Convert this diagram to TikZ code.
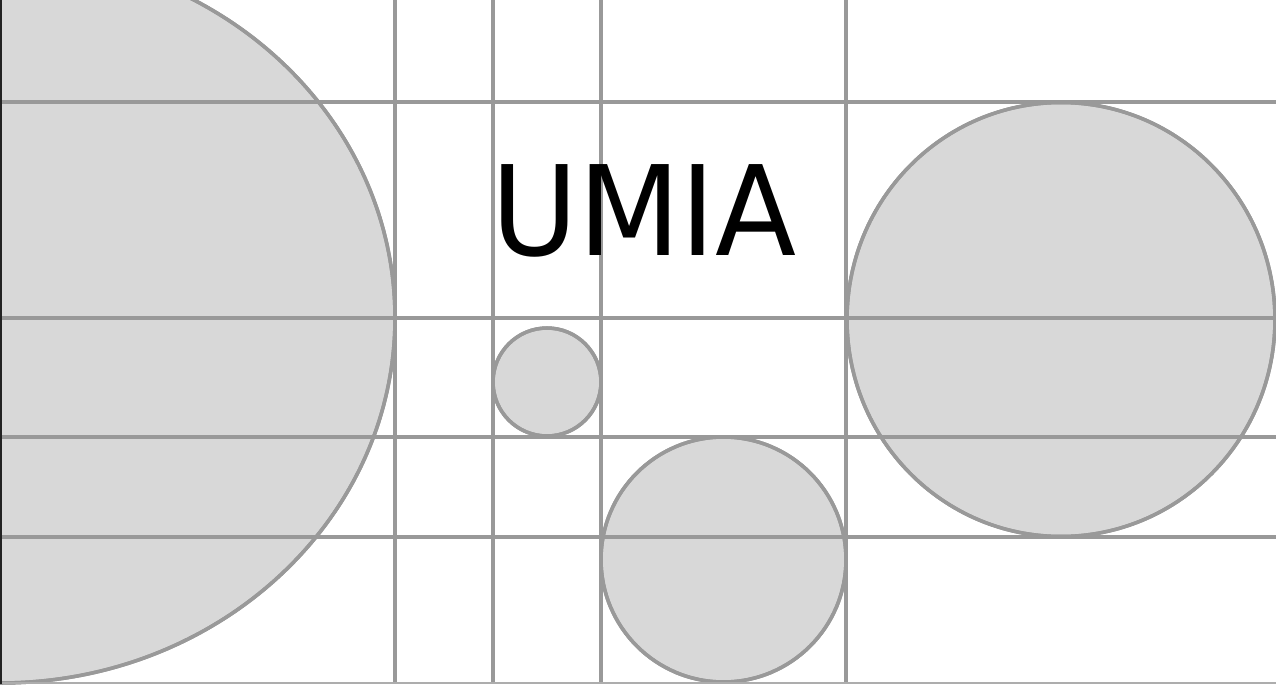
\documentclass[tikz,border=0pt]{standalone}
\usepackage{fontspec}
\newfontfamily\logofont{DejaVu Sans}
\definecolor{gridgray}{HTML}{999999}
\definecolor{discfill}{HTML}{D8D8D8}
\definecolor{edgedark}{HTML}{222222}
\tikzset{
  disc/.style={draw=gridgray, fill=discfill, line width=2pt},
  gridline/.style={draw=gridgray, line width=2pt}
}
\begin{document}
\begin{tikzpicture}[x=0.02cm, y=-0.02cm]
\useasboundingbox (0,0) rectangle (1276,684);
\begin{scope}
\clip (0,0) rectangle (1276,684);
% discs
\fill[disc] (0,318) ellipse [x radius=395, y radius=365];
\fill[disc] (1061,319.5) ellipse [x radius=214, y radius=217];
\fill[disc] (547,382) circle [radius=54];
\fill[disc] (723.5,559.5) circle [radius=122.5];
% grid
\foreach \gx in {395,493,601,846}
  \draw[gridline] (\gx,0) -- (\gx,684);
\foreach \gy in {102,318,437,537}
  \draw[gridline] (0,\gy) -- (1276,\gy);
% disc outlines
\draw[disc, fill=none] (0,318) ellipse [x radius=395, y radius=365];
\draw[disc, fill=none] (1061,319.5) ellipse [x radius=214, y radius=217];
\draw[disc, fill=none] (547,382) circle [radius=54];
\draw[disc, fill=none] (723.5,559.5) circle [radius=122.5];
% frame edges
\draw[draw=gridgray!80, line width=1.6pt] (0,683) -- (1276,683);
\draw[draw=edgedark, line width=1.6pt] (0.6,0) -- (0.6,684);
\end{scope}
\node[font=\logofont\fontsize{71}{71}\selectfont, anchor=base, inner sep=0pt, xscale=0.95] (title) at (644,255) {UMIA};
\end{tikzpicture}
\end{document}
